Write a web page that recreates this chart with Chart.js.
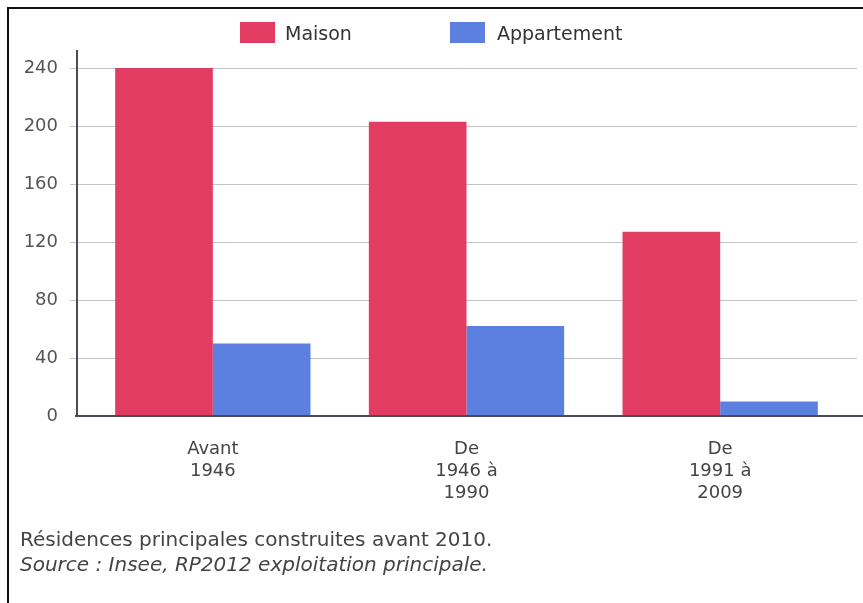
<!DOCTYPE html>
<html>
<head>
<meta charset="utf-8">
<script src="https://cdn.jsdelivr.net/npm/chart.js@4.4.1/dist/chart.umd.min.js"></script>
<style>
  body { margin: 0; background: #fff; font-family: "DejaVu Sans", sans-serif; }
  #wrap { position: relative; width: 863px; height: 603px; overflow: hidden; }
  #frame { position: absolute; left: 7px; top: 7px; right: -10px; bottom: -10px;
           border-top: 2px solid #111; border-left: 2px solid #111; }
  #myChart { position: absolute; left: 0; top: 0; }
  .key { position: absolute; top: 22px; width: 35px; height: 21px; }
  .lbl { position: absolute; top: 21px; font-size: 19px; line-height: 24px; color: #333; }
  .note { position: absolute; left: 20px; font-size: 20px; line-height: 25px; color: #444; }
</style>
</head>
<body>
<div id="wrap">
  <div id="frame"></div>
  <canvas id="myChart" width="863" height="603"></canvas>
  <div id="legend"></div>
  <div class="note" style="top:527px">Résidences principales construites avant 2010.</div>
  <div class="note" style="top:552px;font-style:italic">Source : Insee, RP2012 exploitation principale.</div>
</div>
<script>
// Logements par période de construction
const categories = [['Avant', '1946'], ['De', '1946 à', '1990'], ['De', '1991 à', '2009']];
const seriesNames = ['Maison', 'Appartement'];
const maison = [240, 203, 127];
const appartement = [50, 62, 10];
const yTicks = [0, 40, 80, 120, 160, 200, 240];

const colors = ['#e33c62', '#5b80e0'];

// legend drawn as html so the item spacing can be set freely
const legendPos = [[240, 285], [450, 497]];
let legendHtml = '';
seriesNames.forEach(function(name, i){
    legendHtml += '<div class="key" style="left:' + legendPos[i][0] + 'px;background:' + colors[i] + '"></div>';
    legendHtml += '<div class="lbl" style="left:' + legendPos[i][1] + 'px">' + name + '</div>';
});
document.getElementById('legend').innerHTML = legendHtml;

// grid behind the bars, axis lines on top of them
const axisLines = {
    id: 'axisLines',
    beforeDatasetsDraw(chart) {
        const ctx = chart.ctx;
        const y = chart.scales.y;
        const area = chart.chartArea;
        ctx.save();
        ctx.strokeStyle = '#c4c4c4';
        ctx.lineWidth = 1;
        y.ticks.forEach(t => {
            if (t.value === 0) return;
            const py = Math.round(y.getPixelForValue(t.value)) + 0.5;
            ctx.beginPath();
            ctx.moveTo(area.left - 16, py);
            ctx.lineTo(area.right + 10, py);
            ctx.stroke();
        });
        ctx.restore();
    },
    afterDatasetsDraw(chart) {
        const ctx = chart.ctx;
        const y = chart.scales.y;
        const area = chart.chartArea;
        const y0 = y.getPixelForValue(0);
        ctx.save();
        ctx.strokeStyle = '#4a4a58';
        ctx.lineWidth = 2;
        ctx.beginPath();
        ctx.moveTo(area.left - 9, area.top - 18);
        ctx.lineTo(area.left - 9, y0 + 1);
        ctx.moveTo(area.left - 11, y0);
        ctx.lineTo(chart.width, y0);
        ctx.stroke();
        ctx.restore();
    }
};

const data = {
    labels: categories,
    datasets: [
        {
            label: seriesNames[0],
            data: maison,
            backgroundColor: colors[0],
            borderWidth: 0,
        },
        {
            label: seriesNames[1],
            data: appartement,
            backgroundColor: colors[1],
            borderWidth: 0,
        },
    ]
};

const config = {
    type: 'bar',
    data: data,
    plugins: [axisLines],
    options: {
        responsive: false,
        animation: false,
        layout: { padding: { top: 68, right: 16, left: 0, bottom: 0 } },
        datasets: { bar: { categoryPercentage: 0.77, barPercentage: 1 } },
        plugins: {
            legend: { display: false },
            tooltip: { enabled: false },
        },
        scales: {
            x: {
                grid: { display: false, drawTicks: false },
                border: { display: false },
                ticks: {
                    color: '#444',
                    padding: 22,
                    maxRotation: 0,
                    font: { family: 'DejaVu Sans', size: 18, lineHeight: 1.22 },
                },
                afterFit(scale) { scale.height = 187; },
            },
            y: {
                min: 0,
                max: 240,
                afterBuildTicks(scale) { scale.ticks = yTicks.map(v => ({ value: v })); },
                grid: { display: false, drawTicks: false },
                border: { display: false },
                ticks: {
                    color: '#555',
                    padding: 28,
                    font: { family: 'DejaVu Sans', size: 18 },
                },
                afterFit(scale) { scale.width = 86; },
            }
        }
    },
};

const myChart = new Chart(
    document.getElementById('myChart'),
    config
);
</script>
</body>
</html>
